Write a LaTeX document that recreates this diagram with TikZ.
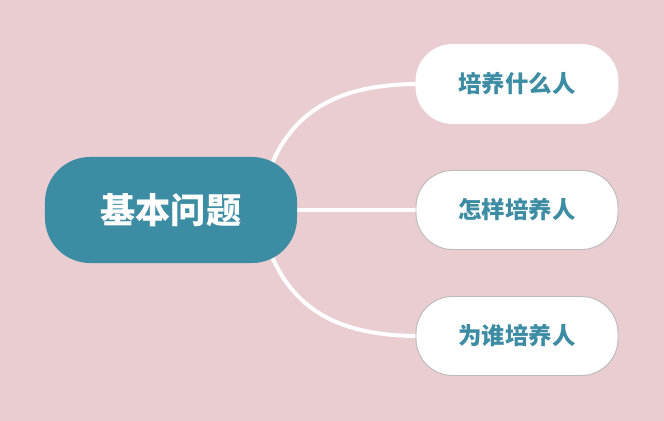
\documentclass[tikz,border=0pt]{standalone}
\usepackage{fontspec}
\newfontfamily\cjk{Noto Sans CJK SC}
\usetikzlibrary{positioning}
\definecolor{fundo}{HTML}{E9CDD1}
\definecolor{petroleo}{HTML}{3C8CA3}
\definecolor{borda}{HTML}{BBBBBB}
\pgfdeclarelayer{fundo}
\pgfsetlayers{fundo,main}

\begin{document}
\begin{tikzpicture}[x=0.03cm,y=-0.03cm,
    raiz/.style={rectangle, rounded corners=1.35cm, fill=petroleo, text=white,
        minimum width=7.56cm, minimum height=3.18cm, inner sep=0pt,
        font=\cjk\bfseries\fontsize{30pt}{36pt}\selectfont},
    folha/.style={rectangle, rounded corners=1.1cm, fill=white, draw=#1, line width=0.8pt,
        text=petroleo, minimum width=6.06cm, minimum height=2.37cm, inner sep=0pt,
        font=\cjk\bfseries\fontsize{20pt}{24pt}\selectfont},
    folha/.default=borda,
    ramo/.style={white, line width=3.4pt}]

    % 1. Fundo rosado com o tamanho da figura
    \begin{pgfonlayer}{fundo}
        \fill[fundo] (0,0) rectangle (664,421);
    \end{pgfonlayer}
    \useasboundingbox (0,0) rectangle (664,421);

    % 2. Nó central e as três folhas
    \node[raiz] (raiz) at (171,210) {基本问题};
    \node[folha=white] (quem) at (517,84) {培养什么人};
    \node[folha] (como) at (517,210) {怎样培养人};
    \node[folha] (para) at (517,336) {为谁培养人};

    % 3. Ramos (por baixo dos nós, começam dentro do nó central)
    \begin{pgfonlayer}{fundo}
        \draw[ramo] ([xshift=-1.05cm,yshift=-1.05cm]raiz.north east)
            .. controls +(20,-75) and +(-86,1) .. (quem.west);
        \draw[ramo] (raiz.east) -- (como.west);
        \draw[ramo] ([xshift=-1.05cm,yshift=1.05cm]raiz.south east)
            .. controls +(20,75) and +(-86,-1) .. (para.west);
    \end{pgfonlayer}

\end{tikzpicture}
\end{document}
